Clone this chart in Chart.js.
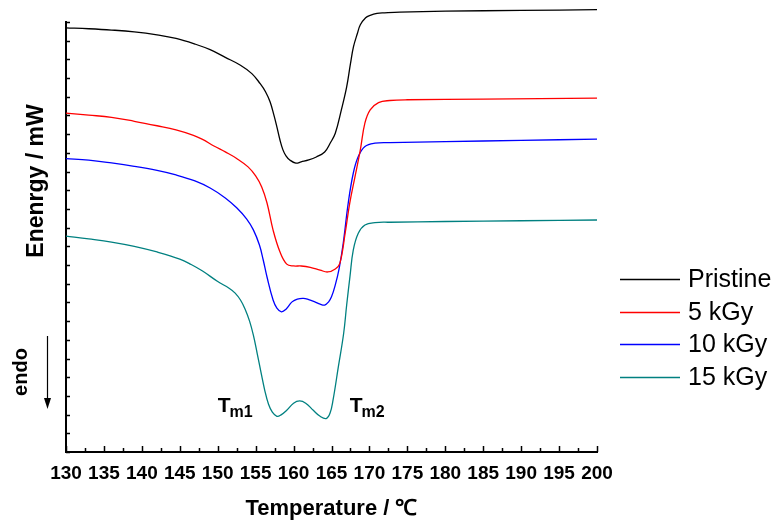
<!DOCTYPE html>
<html>
<head>
<meta charset="utf-8">
<script src="https://cdn.jsdelivr.net/npm/chart.js@4.4.1/dist/chart.umd.min.js"></script>
<style>
  html, body { margin: 0; padding: 0; background: #fff; }
  canvas { display: block; }
</style>
</head>
<body>
<canvas id="dsc" width="777" height="522"></canvas>
<script>
/* DSC melting curves.
   Energy is in arbitrary units (one unit = one minor tick on the y axis). */

const pristineTemp = [130, 133, 136, 139, 142, 144.5, 147, 149, 151, 153, 154.5, 155.6, 156.3, 156.9, 157.4, 157.8, 158.2, 158.6, 159.0, 159.5, 160.3, 161, 162, 163, 164.1, 164.8, 165.5, 166.3, 167.0, 167.5, 167.9, 168.4, 168.8, 169.5, 170.1, 171, 172, 174, 180, 190, 200];
const pristineEnergy = [22.69, 22.64, 22.57, 22.47, 22.31, 22.12, 21.82, 21.52, 21.11, 20.69, 20.24, 19.70, 19.27, 18.73, 18.03, 17.39, 16.70, 16.16, 15.84, 15.62, 15.45, 15.52, 15.62, 15.78, 16.05, 16.50, 17.05, 18.30, 19.53, 20.77, 21.68, 22.37, 22.85, 23.23, 23.36, 23.46, 23.49, 23.53, 23.58, 23.62, 23.66];

const kGy5Temp = [130, 133, 136, 139, 142, 144.5, 146.8, 148, 149.5, 151, 152.5, 154, 155, 155.8, 156.5, 157.3, 158.2, 159.1, 160, 161, 162.2, 163.5, 164.5, 165.5, 166.1, 166.8, 167.4, 168.1, 168.8, 169.4, 170.1, 171.2, 172.7, 175, 185, 200];
const kGy5Energy = [18.13, 18.02, 17.90, 17.69, 17.45, 17.23, 16.94, 16.72, 16.37, 16.05, 15.70, 15.25, 14.77, 14.18, 13.32, 11.87, 10.71, 10.05, 9.95, 9.95, 9.88, 9.73, 9.63, 9.79, 10.09, 11.70, 13.30, 14.73, 16.16, 17.59, 18.30, 18.69, 18.80, 18.84, 18.87, 18.93];

const kGy10Temp = [130, 133, 136, 139, 142, 144.5, 147, 149, 151, 152.5, 153.8, 154.7, 155.5, 156, 156.5, 157.3, 157.8, 158.4, 159, 159.8, 160.5, 161.3, 162, 162.8, 163.5, 164.1, 164.6, 165, 165.5, 166, 166.55, 167.2, 167.87, 168.53, 169.41, 170.73, 172.71, 180, 190, 200];
const kGy10Energy = [15.69, 15.61, 15.46, 15.28, 15.06, 14.82, 14.50, 14.12, 13.59, 13.06, 12.47, 11.88, 11.07, 10.27, 9.36, 8.13, 7.70, 7.50, 7.64, 8.03, 8.18, 8.22, 8.15, 8.03, 7.91, 7.86, 8.02, 8.30, 8.94, 9.80, 11.18, 13.30, 14.91, 15.80, 16.34, 16.52, 16.55, 16.60, 16.67, 16.73];

const kGy15Temp = [130, 133, 136, 139, 142, 145, 146.5, 148, 150, 151.5, 152.3, 153.0, 153.6, 154.2, 154.7, 155.2, 155.7, 156.2, 156.7, 157.2, 157.8, 158.3, 159.1, 160, 160.8, 161.6, 162.6, 163.5, 164.3, 164.8, 165.2, 165.9, 166.6, 167, 167.44, 167.87, 168.53, 169.41, 170.73, 172.7, 180, 190, 200];
const kGy15Energy = [11.55, 11.40, 11.23, 11.00, 10.70, 10.32, 10.03, 9.68, 9.12, 8.76, 8.50, 8.13, 7.65, 7.00, 6.25, 5.28, 4.27, 3.30, 2.55, 2.13, 1.91, 1.97, 2.23, 2.61, 2.73, 2.61, 2.23, 1.91, 1.79, 2.07, 2.77, 4.55, 6.34, 7.86, 9.41, 10.80, 11.70, 12.14, 12.27, 12.29, 12.33, 12.37, 12.41];

const seriesLabels = ["Pristine", "5 kGy", "10 kGy", "15 kGy"];
const seriesColors = ["#000000", "#ff0000", "#0000ff", "#008080"];

// axis ranges / ticks
const tempMin = 130, tempMax = 200, tempStep = 5, tempMinorStep = 2.5;
const energyMin = 0, energyMax = 23, energyStep = 1;

// peak annotations: [main, subscript, temperature, energy]
const peakLabels = [
  ["T", "m1", 150.0, 2.13],
  ["T", "m2", 167.4, 2.13],
];

const FONT = "'Liberation Sans', Arial, Helvetica, sans-serif";

function toPoints(temps, values) {
  return temps.map((t, i) => ({ x: t, y: values[i] }));
}

const allTemps = [pristineTemp, kGy5Temp, kGy10Temp, kGy15Temp];
const allEnergy = [pristineEnergy, kGy5Energy, kGy10Energy, kGy15Energy];

/* ---- small plugins ---- */

// tick marks pointing into the plot, like the Origin figure
const innerTicks = {
  id: "innerTicks",
  afterDraw(chart) {
    const { ctx, chartArea: a, scales: { x, y } } = chart;
    ctx.save();
    ctx.strokeStyle = "#000";
    ctx.lineWidth = 1.5;
    ctx.beginPath();
    for (let t = tempMin; t <= tempMax + 1e-9; t += tempMinorStep) {
      const px = Math.round(x.getPixelForValue(t)) + 0.5;
      const len = Math.abs(t % tempStep) < 1e-6 ? 6 : 4;
      ctx.moveTo(px, a.bottom);
      ctx.lineTo(px, a.bottom - len);
    }
    for (let v = energyMin; v <= energyMax; v += energyStep) {
      const py = Math.round(y.getPixelForValue(v)) + 0.5;
      ctx.moveTo(a.left, py);
      ctx.lineTo(a.left + 4, py);
    }
    ctx.stroke();
    ctx.restore();
  }
};

// T_m1 / T_m2 labels
const peakText = {
  id: "peakText",
  afterDraw(chart) {
    const { ctx, scales: { x, y } } = chart;
    ctx.save();
    ctx.fillStyle = "#000";
    ctx.textBaseline = "alphabetic";
    ctx.textAlign = "left";
    peakLabels.forEach(([main, sub, t, e]) => {
      const px = x.getPixelForValue(t);
      const py = y.getPixelForValue(e);
      ctx.font = "bold 21px " + FONT;
      ctx.fillText(main, px, py);
      const w = ctx.measureText(main).width;
      ctx.font = "bold 16px " + FONT;
      ctx.fillText(sub, px + w - 1, py + 5);
    });
    ctx.restore();
  }
};

// y title and "endo" note with downward arrow left of the y axis
const leftNotes = {
  id: "leftNotes",
  afterDraw(chart) {
    const { ctx } = chart;
    ctx.save();
    ctx.fillStyle = "#000";
    ctx.textAlign = "center";
    ctx.textBaseline = "middle";

    ctx.save();
    ctx.translate(37, 181);
    ctx.rotate(-Math.PI / 2);
    ctx.font = "bold 23px " + FONT;
    ctx.fillText("Enenrgy / mW", 0, 0);
    ctx.restore();

    ctx.save();
    ctx.translate(21, 372);
    ctx.rotate(-Math.PI / 2);
    ctx.font = "bold 20px " + FONT;
    ctx.fillText("endo", 0, 0);
    ctx.restore();

    ctx.strokeStyle = "#000";
    ctx.lineWidth = 1.2;
    ctx.beginPath();
    ctx.moveTo(47.5, 336);
    ctx.lineTo(47.5, 400);
    ctx.stroke();
    ctx.beginPath();
    ctx.moveTo(44, 398);
    ctx.lineTo(51, 398);
    ctx.lineTo(47.5, 409);
    ctx.closePath();
    ctx.fill();
    ctx.restore();
  }
};

// legend on the right, lower half
const sideLegend = {
  id: "sideLegend",
  afterDraw(chart) {
    const { ctx } = chart;
    ctx.save();
    ctx.font = "25px " + FONT;
    ctx.textBaseline = "middle";
    ctx.textAlign = "left";
    chart.data.datasets.forEach((ds, i) => {
      const cy = 279 + i * 32.7;
      ctx.strokeStyle = ds.borderColor;
      ctx.lineWidth = 1.3;
      ctx.beginPath();
      ctx.moveTo(620, Math.round(cy) + 0.5);
      ctx.lineTo(680, Math.round(cy) + 0.5);
      ctx.stroke();
      ctx.fillStyle = "#000";
      ctx.fillText(ds.label, 688, cy + 1);
    });
    ctx.restore();
  }
};

const ctx = document.getElementById("dsc").getContext("2d");

new Chart(ctx, {
  type: "line",
  data: {
    datasets: seriesLabels.map((label, i) => ({
      label,
      data: toPoints(allTemps[i], allEnergy[i]),
      borderColor: seriesColors[i],
      backgroundColor: seriesColors[i],
      borderWidth: 1.3,
      pointRadius: 0,
      fill: false,
      tension: 0.4,
      clip: false,
    })),
  },
  options: {
    responsive: false,
    animation: false,
    layout: { padding: { top: 22, right: 180, left: 0, bottom: 0 } },
    plugins: {
      legend: { display: false },
      tooltip: { enabled: false },
    },
    scales: {
      x: {
        type: "linear",
        min: tempMin,
        max: tempMax,
        ticks: {
          stepSize: tempStep,
          autoSkip: false,
          maxRotation: 0,
          color: "#000",
          padding: 10,
          font: { family: FONT, size: 19, weight: "bold" },
        },
        grid: { drawOnChartArea: false, drawTicks: false },
        border: { color: "#000", width: 2 },
        title: {
          display: true,
          text: "Temperature / \u2103",
          color: "#000",
          font: { family: FONT, size: 22, weight: "bold" },
          padding: { top: 0, bottom: 0 },
        },
        afterFit: (s) => { s.height = 70; },
      },
      y: {
        min: energyMin,
        max: energyMax,
        ticks: { display: false, stepSize: energyStep },
        grid: { drawOnChartArea: false, drawTicks: false },
        border: { color: "#000", width: 2 },
        afterFit: (s) => { s.width = 66; },
      },
    },
  },
  plugins: [innerTicks, peakText, leftNotes, sideLegend],
});
</script>
</body>
</html>
